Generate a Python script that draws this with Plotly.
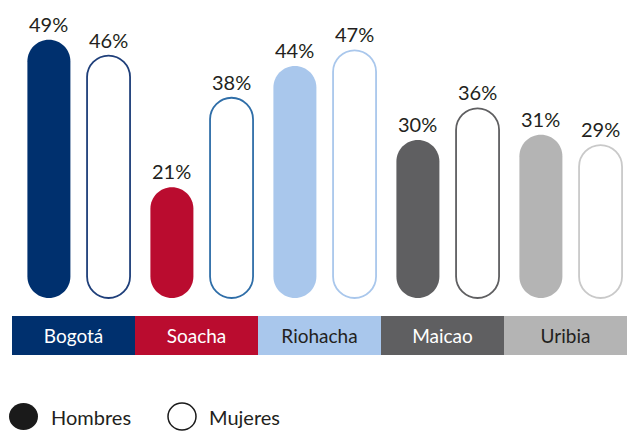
import plotly.graph_objects as go

# Datos
ciudades = ["Bogotá", "Soacha", "Riohacha", "Maicao", "Uribia"]
hombres = [49, 21, 44, 30, 31]
mujeres = [46, 38, 47, 36, 29]

# Colores por ciudad
col_ciudad = ["#00306E", "#BA0C2F", "#A9C7EC", "#5F5F61", "#B4B4B4"]
col_borde_muj = ["#1F3F7A", "#2F6EA8", "#A9C7EC", "#5F5F61", "#C9C9C9"]
col_texto_banda = ["white", "white", "#231F20", "white", "#231F20"]

W, H = 627, 432
# ejes: 1 unidad x = 123 px, 1 unidad y = 5.27 px
X_RANGE = [-0.5 - 12 / 123, 4.5]
PX_X = W / (X_RANGE[1] - X_RANGE[0])
PX_Y = 5.27
Y_RANGE = [-(H - 298) / PX_Y, 298 / PX_Y]

OFF_H, OFF_M = -0.20, 0.285
HALF_W = 21.5 / PX_X
RY = 21.5 / PX_Y
K = 0.5523
FONT = "Lato"


def pill(cx, v):
    w, ry = HALF_W, RY
    y0, y1 = 0, v
    return (
        f"M {cx-w},{y0+ry} L {cx-w},{y1-ry} "
        f"C {cx-w},{y1-ry+K*ry} {cx-K*w},{y1} {cx},{y1} "
        f"C {cx+K*w},{y1} {cx+w},{y1-ry+K*ry} {cx+w},{y1-ry} "
        f"L {cx+w},{y0+ry} "
        f"C {cx+w},{y0+ry-K*ry} {cx+K*w},{y0} {cx},{y0} "
        f"C {cx-K*w},{y0} {cx-w},{y0+ry-K*ry} {cx-w},{y0+ry} Z"
    )


fig = go.Figure()

# banda inferior con nombres de ciudades
fig.add_trace(go.Bar(
    x=list(range(len(ciudades))),
    y=[7.4] * len(ciudades),
    base=-10.82,
    width=1,
    marker=dict(color=col_ciudad, line=dict(width=0)),
    text=ciudades,
    textposition="inside",
    insidetextanchor="middle",
    textangle=0,
    textfont=dict(family=FONT, size=19, color=col_texto_banda),
    hoverinfo="skip",
    showlegend=False,
))

shapes = []
annotations = []
for i, c in enumerate(ciudades):
    xh = i + OFF_H
    xm = i + OFF_M
    shapes.append(dict(type="path", xref="x", yref="y", path=pill(xh, hombres[i]),
                       fillcolor=col_ciudad[i], line=dict(width=0), layer="above"))
    shapes.append(dict(type="path", xref="x", yref="y", path=pill(xm, mujeres[i]),
                       fillcolor="white", line=dict(width=1.8, color=col_borde_muj[i]), layer="above"))
    for x, v in [(xh, hombres[i]), (xm, mujeres[i])]:
        annotations.append(dict(x=x, y=v, xref="x", yref="y", text=f"{v}%", showarrow=False,
                                yanchor="middle", yshift=16,
                                font=dict(family=FONT, size=20, color="#231F20")))

# leyenda
shapes.append(dict(type="circle", xref="paper", yref="paper",
                   x0=9 / W, x1=38 / W, y0=1 - 430 / H, y1=1 - 403 / H,
                   fillcolor="#1A1A1A", line=dict(width=0)))
shapes.append(dict(type="circle", xref="paper", yref="paper",
                   x0=168 / W, x1=196 / W, y0=1 - 430 / H, y1=1 - 403 / H,
                   fillcolor="white", line=dict(width=1.5, color="#1A1A1A")))
for txt, px in [("Hombres", 49), ("Mujeres", 207)]:
    annotations.append(dict(x=px / W, y=1 - 417 / H, xref="paper", yref="paper", text=txt,
                            showarrow=False, xanchor="left", yanchor="middle",
                            font=dict(family=FONT, size=20, color="#231F20")))

fig.update_layout(
    width=W, height=H,
    margin=dict(l=0, r=0, t=0, b=0),
    paper_bgcolor="white", plot_bgcolor="white",
    xaxis=dict(range=X_RANGE, visible=False, fixedrange=True),
    yaxis=dict(range=Y_RANGE, visible=False, fixedrange=True),
    shapes=shapes,
    annotations=annotations,
    bargap=0,
    showlegend=False,
)

fig.write_html("out.html", config={"displayModeBar": False},
               post_script="document.body.style.margin='0';document.body.style.overflow='hidden';")
